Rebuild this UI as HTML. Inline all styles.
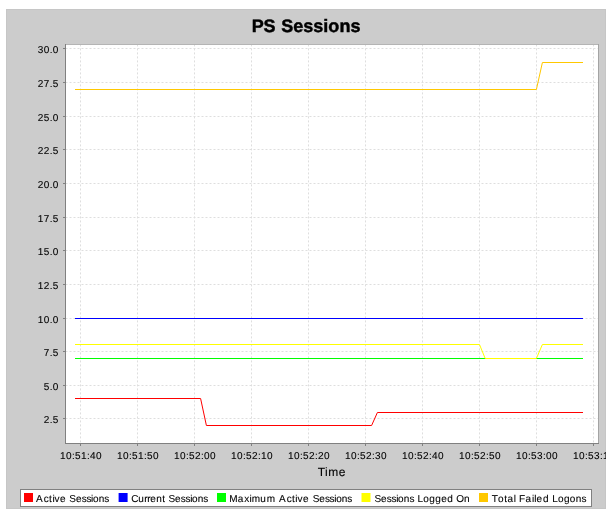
<!DOCTYPE html>
<html><head><meta charset="utf-8"><title>PS Sessions</title>
<style>html,body{margin:0;padding:0;background:#fff;width:608px;height:514px;overflow:hidden}
svg{display:block;will-change:transform;text-rendering:geometricPrecision}text{font-family:"Liberation Sans",sans-serif;stroke:#000;stroke-width:0.1px}</style></head>
<body>
<svg width="608" height="514" viewBox="0 0 608 514" font-family="'Liberation Sans', sans-serif">
<defs><clipPath id="cc"><rect x="6" y="9" width="600" height="500"/></clipPath><clipPath id="pc"><rect x="65" y="44" width="533" height="399"/></clipPath></defs>
<g clip-path="url(#cc)">
<rect x="6" y="9" width="600" height="500" fill="#cccccc"/>
<rect x="6.5" y="9.5" width="599" height="499" fill="none" stroke="#c6c6c6" stroke-width="1"/>
<text x="251.7 263.6" y="32" font-size="18" font-weight="bold" fill="#000" style="stroke:#000;stroke-width:0.45px">PS</text>
<text x="281.18 293.22 303.26 313.3 323.33 328.35 339.39 350.43" y="32" font-size="18" font-weight="bold" fill="#000" style="stroke:#000;stroke-width:0.45px">Sessions</text>
<rect x="65" y="44" width="533" height="399" fill="#fff"/>
<path d="M65.5 48.5H598M65.5 82.5H598M65.5 116.5H598M65.5 149.5H598M65.5 183.5H598M65.5 217.5H598M65.5 250.5H598M65.5 284.5H598M65.5 318.5H598M65.5 351.5H598M65.5 385.5H598M65.5 418.5H598" stroke="#dedede" stroke-width="1" stroke-dasharray="2 2" fill="none"/>
<path d="M80.5 44.4V443M137.5 44.4V443M194.5 44.4V443M251.5 44.4V443M308.5 44.4V443M365.5 44.4V443M422.5 44.4V443M479.5 44.4V443M536.5 44.4V443M593.5 44.4V443" stroke="#dedede" stroke-width="1" stroke-dasharray="2 2" fill="none"/>
<path d="M65 44.5H598" stroke="#b4b4b4" stroke-width="1" fill="none"/>
<path d="M598.5 44V444" stroke="#a4a4a4" stroke-width="1" fill="none"/>
<path d="M65.5 44V444 M65 443.5H599" stroke="#808080" stroke-width="1" fill="none"/>
<path d="M63 48.5H65M63 82.5H65M63 116.5H65M63 149.5H65M63 183.5H65M63 217.5H65M63 250.5H65M63 284.5H65M63 318.5H65M63 351.5H65M63 385.5H65M63 418.5H65M80.5 444V446M137.5 444V446M194.5 444V446M251.5 444V446M308.5 444V446M365.5 444V446M422.5 444V446M479.5 444V446M536.5 444V446M593.5 444V446" stroke="#808080" stroke-width="1" fill="none"/>
<text x="37.83 43.83 49.83 52.83" y="53" font-size="10">30.0</text>
<text x="37.83 43.83 49.83 52.83" y="87" font-size="10">27.5</text>
<text x="37.83 43.83 49.83 52.83" y="121" font-size="10">25.0</text>
<text x="37.83 43.83 49.83 52.83" y="154" font-size="10">22.5</text>
<text x="37.83 43.83 49.83 52.83" y="188" font-size="10">20.0</text>
<text x="37.83 43.83 49.83 52.83" y="222" font-size="10">17.5</text>
<text x="37.83 43.83 49.83 52.83" y="255" font-size="10">15.0</text>
<text x="37.83 43.83 49.83 52.83" y="289" font-size="10">12.5</text>
<text x="37.83 43.83 49.83 52.83" y="323" font-size="10">10.0</text>
<text x="43.83 49.83 52.83" y="356" font-size="10">7.5</text>
<text x="43.83 49.83 52.83" y="390" font-size="10">5.0</text>
<text x="43.83 49.83 52.83" y="423" font-size="10">2.5</text>
<text x="60.1 66.1 72.1 75.1 81.1 87.1 90.1 96.1" y="459" font-size="10">10:51:40</text>
<text x="117.1 123.1 129.1 132.1 138.1 144.1 147.1 153.1" y="459" font-size="10">10:51:50</text>
<text x="174.1 180.1 186.1 189.1 195.1 201.1 204.1 210.1" y="459" font-size="10">10:52:00</text>
<text x="231.1 237.1 243.1 246.1 252.1 258.1 261.1 267.1" y="459" font-size="10">10:52:10</text>
<text x="288.1 294.1 300.1 303.1 309.1 315.1 318.1 324.1" y="459" font-size="10">10:52:20</text>
<text x="345.1 351.1 357.1 360.1 366.1 372.1 375.1 381.1" y="459" font-size="10">10:52:30</text>
<text x="402.1 408.1 414.1 417.1 423.1 429.1 432.1 438.1" y="459" font-size="10">10:52:40</text>
<text x="459.1 465.1 471.1 474.1 480.1 486.1 489.1 495.1" y="459" font-size="10">10:52:50</text>
<text x="516.1 522.1 528.1 531.1 537.1 543.1 546.1 552.1" y="459" font-size="10">10:53:00</text>
<text x="573.1 579.1 585.1 588.1 594.1 600.1 603.1 609.1" y="459" font-size="10">10:53:10</text>
<text x="317.63 325.06 328.24 338.86" y="476" font-size="12" font-weight="normal" fill="#000">Time</text>
<g clip-path="url(#pc)">
<path d="M75 398.5 L200.6 398.5 L206.4 425.5 L371.6 425.5 L377.4 412.5 L583 412.5" stroke="#ff0000" stroke-width="1" fill="none" stroke-linejoin="bevel"/>
<path d="M75 318.5 L583 318.5" stroke="#0000ff" stroke-width="1" fill="none" stroke-linejoin="bevel"/>
<path d="M75 358.5 L583 358.5" stroke="#00ff00" stroke-width="1" fill="none" stroke-linejoin="bevel"/>
<path d="M75 344.5 L479.5 344.5 L485.2 358.5 L536.4 358.5 L542.4 344.5 L583 344.5" stroke="#ffff00" stroke-width="1" fill="none" stroke-linejoin="bevel"/>
<path d="M75 89.5 L536.4 89.5 L542.4 62.5 L583 62.5" stroke="#ffc800" stroke-width="1" fill="none" stroke-linejoin="bevel"/>
</g>
<rect x="20.5" y="489.5" width="571" height="17" fill="#fff" stroke="#808080" stroke-width="1"/>
<rect x="24" y="493" width="9" height="9" fill="#ff0000"/>
<text x="36.08 43.69 49.12 52.38 54.55 59.98" y="502" font-size="10" font-weight="normal" fill="#000">Active</text>
<text x="69.35 75.97 81.65 86.38 91.11 93 98.68 104.36" y="502" font-size="10" font-weight="normal" fill="#000">Sessions</text>
<rect x="118.6" y="493" width="9" height="9" fill="#0000ff"/>
<text x="131.19 138.22 144.24 147.25 150.26 156.28 162.29" y="502" font-size="10" font-weight="normal" fill="#000">Current</text>
<text x="168.45 175.05 180.71 185.43 190.15 192.04 197.7 203.36" y="502" font-size="10" font-weight="normal" fill="#000">Sessions</text>
<rect x="217" y="493" width="9" height="9" fill="#00ff00"/>
<text x="229.28 237.82 244.22 249.56 251.69 260.23 266.63" y="502" font-size="10" font-weight="normal" fill="#000">Maximum</text>
<text x="279.08 286.65 292.06 295.31 297.47 302.88" y="502" font-size="10" font-weight="normal" fill="#000">Active</text>
<text x="312.75 319.29 324.91 329.59 334.26 336.13 341.75 347.36" y="502" font-size="10" font-weight="normal" fill="#000">Sessions</text>
<rect x="361.5" y="493" width="9" height="9" fill="#ffff00"/>
<text x="374.45 381.07 386.75 391.48 396.21 398.1 403.78 409.46" y="502" font-size="10" font-weight="normal" fill="#000">Sessions</text>
<text x="417.38 423.36 429.34 435.32 441.3 447.28" y="502" font-size="10" font-weight="normal" fill="#000">Logged</text>
<text x="456.23 464.09" y="502" font-size="10" font-weight="normal" fill="#000">On</text>
<rect x="479" y="493" width="9" height="9" fill="#ffc800"/>
<text x="491.78 498.05 504.33 507.47 513.75" y="502" font-size="10" font-weight="normal" fill="#000">Total</text>
<text x="518.98 525.53 532.07 534.25 536.44 542.98" y="502" font-size="10" font-weight="normal" fill="#000">Failed</text>
<text x="552.18 558.06 563.93 569.81 575.69 581.56" y="502" font-size="10" font-weight="normal" fill="#000">Logons</text>
</g>
</svg>
</body></html>
